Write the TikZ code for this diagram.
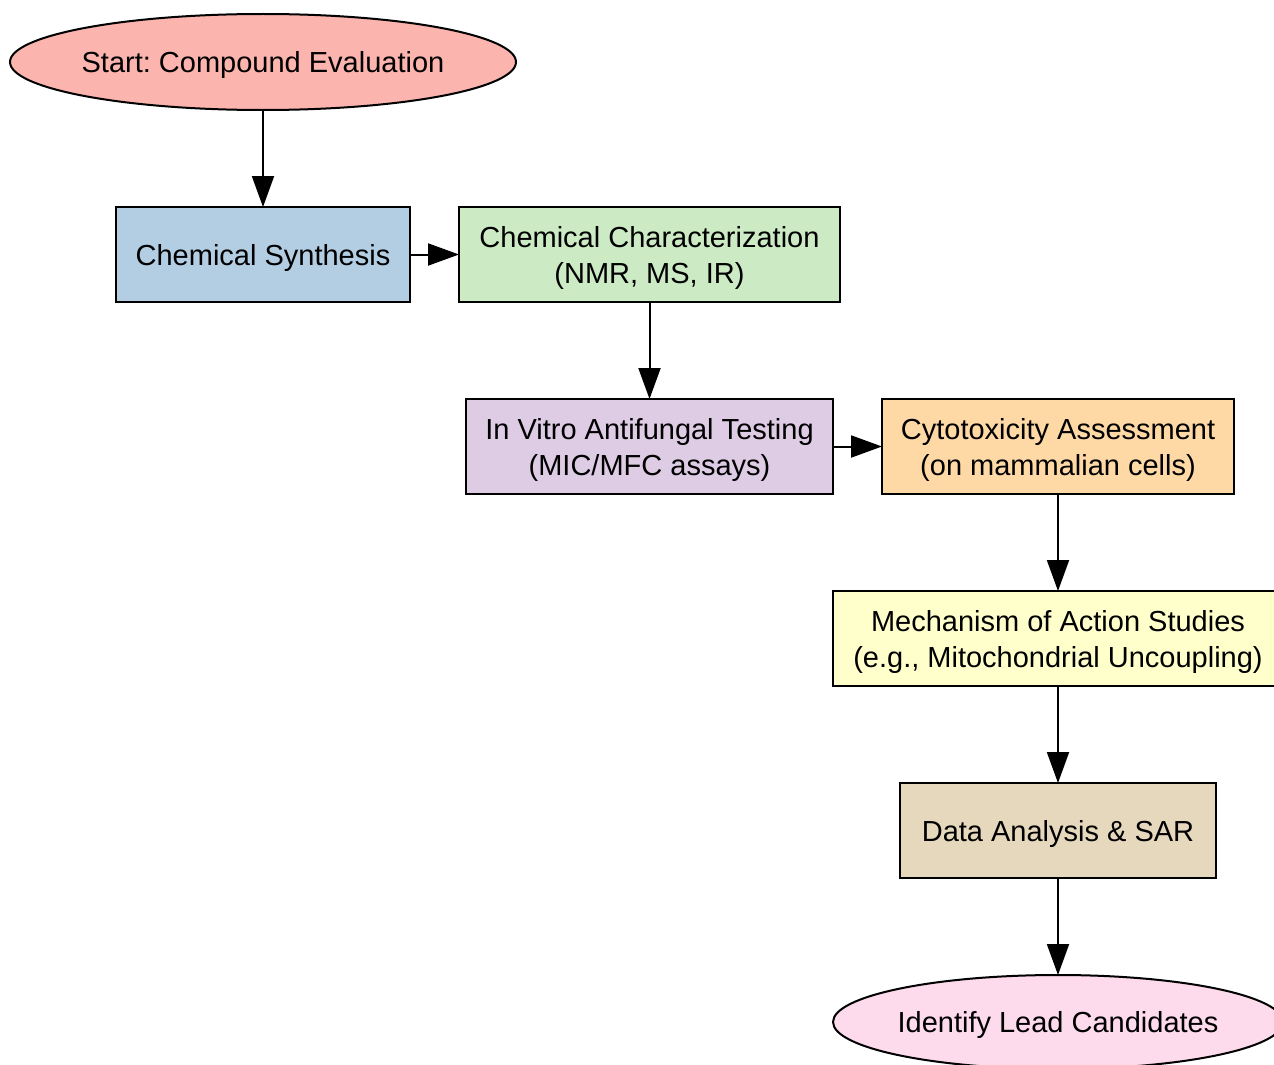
\documentclass[tikz,border=0pt]{standalone}
\usepackage{fontspec}
\setmainfont{Liberation Sans}
\usetikzlibrary{arrows.meta,shapes.geometric}
\definecolor{cA}{HTML}{FBB4AE}
\definecolor{cB}{HTML}{B3CDE3}
\definecolor{cC}{HTML}{CCEBC5}
\definecolor{cD}{HTML}{DECBE4}
\definecolor{cE}{HTML}{FED9A6}
\definecolor{cF}{HTML}{FFFFCC}
\definecolor{cG}{HTML}{E5D8BD}
\definecolor{cH}{HTML}{FDDAEC}
\newcommand{\lbltxt}[1]{\raisebox{-3.5pt}[\height][\depth]{\begin{tabular}{@{}c@{}}#1\end{tabular}}}
\newcommand{\ovtxt}[1]{\makebox[0pt]{\lbltxt{#1}}}
\frenchspacing
\begin{document}
\begin{tikzpicture}[x=1pt,y=-1pt,
  every node/.style={font=\fontsize{29}{36}\selectfont, inner sep=0pt, outer sep=0pt, draw=black, line width=2pt},
  boxnode/.style={rectangle, minimum height=95pt},
  ovalnode/.style={ellipse},
  arr/.style={-{Triangle[length=31pt,width=22pt]}, line width=2pt}]
\useasboundingbox (0,0) rectangle (1274,1065);
\node[ovalnode, fill=cA, minimum width=506pt, minimum height=96pt] (start) at (263,62) {\ovtxt{Start: Compound Evaluation}};
\node[boxnode, fill=cB, minimum width=294pt] (syn) at (263,254.5) {\lbltxt{Chemical Synthesis}};
\node[boxnode, fill=cC, minimum width=381pt] (char) at (649.5,254.5) {\lbltxt{Chemical Characterization\\(NMR, MS, IR)}};
\node[boxnode, fill=cD, minimum width=367pt] (vitro) at (649.5,446.5) {\lbltxt{In Vitro Antifungal Testing\\(MIC/MFC assays)}};
\node[boxnode, fill=cE, minimum width=352pt] (cyto) at (1058,446.5) {\lbltxt{Cytotoxicity Assessment\\(on mammalian cells)}};
\node[boxnode, fill=cF, minimum width=450pt] (mech) at (1058,638.5) {\lbltxt{Mechanism of Action Studies\\(e.g., Mitochondrial Uncoupling)}};
\node[boxnode, fill=cG, minimum width=316pt] (data) at (1058,830.5) {\lbltxt{Data Analysis \& SAR}};
\node[ovalnode, fill=cH, minimum width=450pt, minimum height=94pt] (lead) at (1058,1022) {\ovtxt{Identify Lead Candidates}};
\draw[arr] (start) -- (syn);
\draw[arr] (syn) -- (char);
\draw[arr] (char) -- (vitro);
\draw[arr] (vitro) -- (cyto);
\draw[arr] (cyto) -- (mech);
\draw[arr] (mech) -- (data);
\draw[arr] (data) -- (lead);
\end{tikzpicture}
\end{document}
